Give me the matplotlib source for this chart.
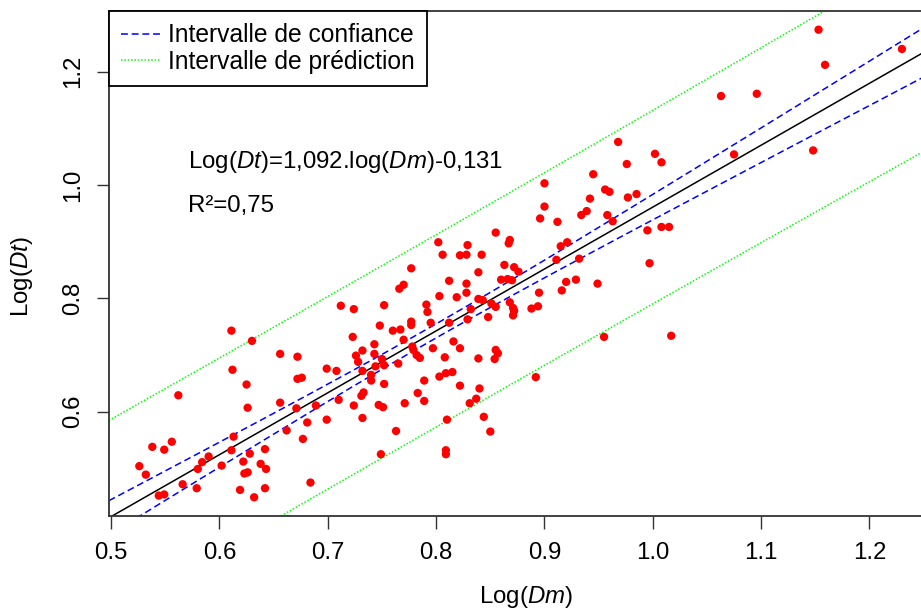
import numpy as np
import matplotlib
matplotlib.use("Agg")
import matplotlib.pyplot as plt

plt.rcParams['font.family'] = ['Liberation Sans', 'DejaVu Sans']
plt.rcParams['mathtext.fontset'] = 'custom'
plt.rcParams['mathtext.rm'] = 'Liberation Sans'
plt.rcParams['mathtext.it'] = 'Liberation Sans:italic'

# ---- data: log(Dm) (x) and log(Dt) (y) ----
log_dm = [
    0.526, 0.532, 0.538, 0.549, 0.556, 0.544, 0.549, 0.566, 0.579, 0.580,
    0.584, 0.590, 0.602, 0.613, 0.611, 0.619, 0.632, 0.642, 0.622, 0.623,
    0.626, 0.628, 0.638, 0.643, 0.642, 0.562,
    0.611, 0.630, 0.612, 0.625, 0.626, 0.656, 0.672, 0.672, 0.676, 0.656,
    0.671, 0.689, 0.699, 0.681, 0.662, 0.677, 0.684, 0.699, 0.708,
    0.712, 0.724, 0.752, 0.723, 0.732, 0.726, 0.728, 0.732, 0.748, 0.760,
    0.767, 0.743, 0.743, 0.750, 0.744, 0.752, 0.740, 0.740, 0.752, 0.765,
    0.710, 0.724, 0.731, 0.733, 0.747, 0.751, 0.771, 0.732, 0.763, 0.749,
    0.766, 0.770,
    0.777, 0.812, 0.828, 0.803, 0.819, 0.828, 0.839, 0.843, 0.791, 0.792,
    0.832, 0.851, 0.855, 0.868, 0.871, 0.872, 0.871, 0.888, 0.894, 0.895,
    0.916, 0.920, 0.929, 0.949, 0.777, 0.777, 0.795, 0.812, 0.829, 0.848,
    0.770, 0.778, 0.779, 0.782, 0.785, 0.797, 0.816, 0.822, 0.808, 0.839,
    0.855, 0.857, 0.854, 0.803, 0.809, 0.815, 0.789, 0.783, 0.789, 0.822,
    0.840, 0.837, 0.831, 0.844, 0.850, 0.810, 0.809, 0.809, 0.892, 0.955,
    1.017,
    0.968, 0.976, 0.945, 0.900, 0.956, 0.960, 0.942, 0.977, 0.985, 0.900,
    0.896, 0.912, 0.934, 0.939, 0.958, 0.963, 0.855, 0.868, 0.867, 0.802,
    0.829, 0.806, 0.822, 0.828, 0.842, 0.915, 0.921, 0.911, 0.932, 0.863,
    0.872, 0.876, 0.839, 0.860, 0.866, 0.870, 1.002, 1.008, 1.075, 1.148,
    0.995, 1.008, 1.015, 0.997, 1.153, 1.230, 1.159, 1.063, 1.096,
]
log_dt = [
    0.504, 0.489, 0.538, 0.533, 0.547, 0.452, 0.454, 0.472, 0.465, 0.499,
    0.511, 0.521, 0.505, 0.556, 0.532, 0.462, 0.449, 0.465, 0.512, 0.491,
    0.493, 0.526, 0.508, 0.499, 0.534, 0.629,
    0.743, 0.725, 0.674, 0.648, 0.607, 0.702, 0.697, 0.658, 0.660, 0.616,
    0.606, 0.611, 0.586, 0.581, 0.567, 0.552, 0.475, 0.676, 0.672,
    0.787, 0.781, 0.788, 0.732, 0.708, 0.699, 0.688, 0.672, 0.752, 0.743,
    0.745, 0.719, 0.702, 0.693, 0.680, 0.682, 0.665, 0.655, 0.649, 0.685,
    0.621, 0.611, 0.628, 0.634, 0.612, 0.608, 0.615, 0.589, 0.566, 0.525,
    0.817, 0.824,
    0.853, 0.831, 0.826, 0.804, 0.802, 0.810, 0.799, 0.797, 0.789, 0.776,
    0.781, 0.791, 0.785, 0.793, 0.783, 0.778, 0.770, 0.782, 0.786, 0.810,
    0.814, 0.829, 0.833, 0.826, 0.759, 0.753, 0.757, 0.757, 0.763, 0.767,
    0.727, 0.715, 0.709, 0.700, 0.695, 0.712, 0.724, 0.712, 0.696, 0.694,
    0.709, 0.703, 0.693, 0.662, 0.668, 0.670, 0.655, 0.633, 0.619, 0.646,
    0.641, 0.623, 0.615, 0.591, 0.565, 0.586, 0.532, 0.525, 0.661, 0.732,
    0.734,
    1.076, 1.037, 1.019, 1.003, 0.992, 0.988, 0.976, 0.978, 0.984, 0.962,
    0.941, 0.935, 0.947, 0.954, 0.947, 0.936, 0.916, 0.903, 0.897, 0.899,
    0.894, 0.877, 0.876, 0.877, 0.877, 0.892, 0.899, 0.868, 0.870, 0.859,
    0.855, 0.847, 0.846, 0.833, 0.834, 0.832, 1.055, 1.040, 1.054, 1.061,
    0.920, 0.926, 0.926, 0.862, 1.274, 1.240, 1.212, 1.157, 1.161,
]

slope = 1.092
intercept = -0.131
t_975 = 1.973  # Student t quantile, 185 df

x_ticks = [0.5, 0.6, 0.7, 0.8, 0.9, 1.0, 1.1, 1.2]
y_ticks = [0.6, 0.8, 1.0, 1.2]

eq_text = r"Log($\mathit{Dt}$)=1,092.log($\mathit{Dm}$)-0,131"
r2_text = "R²=0,75"
x_label = r"Log($\mathit{Dm}$)"
y_label = r"Log($\mathit{Dt}$)"
legend_labels = ["Intervalle de confiance", "Intervalle de prédiction"]

x = np.array(log_dm)
y = np.array(log_dt)
n = len(x)

# R-style axis limits (range extended by 4%)
def rlim(v):
    r = v.max() - v.min()
    return v.min() - 0.04 * r, v.max() + 0.04 * r

xlim = rlim(x)
ylim = rlim(y)

# regression bands
xbar = x.mean()
sxx = np.sum((x - xbar) ** 2)
resid = y - (intercept + slope * x)
s = np.sqrt(np.sum(resid ** 2) / (n - 2))
xg = np.linspace(xlim[0], xlim[1], 400)
fit = intercept + slope * xg
conf = t_975 * s * np.sqrt(1.0 / n + (xg - xbar) ** 2 / sxx)
pred = t_975 * s * np.sqrt(1.0 + 1.0 / n + (xg - xbar) ** 2 / sxx)

W, H = 921, 614
fig = plt.figure(figsize=(W / 100, H / 100), dpi=100)
left_px, bottom_px, top_px = 108.8, 516.0, 11.0
px_per_unit = 1083.3
right_px = left_px + (xlim[1] - xlim[0]) * px_per_unit
aw = right_px - left_px
ah = bottom_px - top_px
ax = fig.add_axes([left_px / W, (H - bottom_px) / H, aw / W, ah / H])

ax.plot(xg, fit, color='black', lw=1.1, zorder=2)
ax.plot(xg, fit + conf, color='#0000FF', lw=1.1, dashes=(4.5, 2.5), zorder=2,
        label=legend_labels[0])
ax.plot(xg, fit - conf, color='#0000FF', lw=1.1, dashes=(4.5, 2.5), zorder=2)
ax.plot(xg, fit + pred, color='#00FF00', lw=1.1, dashes=(1.0, 1.2), zorder=2,
        label=legend_labels[1])
ax.plot(xg, fit - pred, color='#00FF00', lw=1.1, dashes=(1.0, 1.2), zorder=2)
ax.scatter(x, y, s=36, color='#FF0000', edgecolors='none', zorder=3)

ax.set_xlim(xlim)
ax.set_ylim(ylim)
ax.set_xticks(x_ticks)
ax.set_xticklabels([f"{v:.1f}" for v in x_ticks])
ax.set_yticks(y_ticks)
ax.set_yticklabels([f"{v:.1f}" for v in y_ticks], rotation=90, va='center')

fs = 17.3
ax.tick_params(axis='both', direction='out', length=9, width=1.0,
               labelsize=fs, color='#333333')
ax.tick_params(axis='x', pad=10)
ax.tick_params(axis='y', pad=9)
for sp in ax.spines.values():
    sp.set_linewidth(1.3)
    sp.set_color('#333333')

ax.set_xlabel(x_label, fontsize=fs)
ax.set_ylabel(y_label, fontsize=fs)
ax.xaxis.set_label_coords((526 - left_px) / aw, -(584 - bottom_px) / ah)
ax.yaxis.set_label_coords(-(left_px - 35) / aw, (bottom_px - 277) / ah)

ax.text((188 - left_px) / aw, (bottom_px - 167.7) / ah,
        eq_text, transform=ax.transAxes, fontsize=fs, va='baseline', ha='left')
ax.text((188 - left_px) / aw, (bottom_px - 212) / ah,
        r2_text, transform=ax.transAxes, fontsize=fs, va='baseline', ha='left')

leg = ax.legend(loc='upper left', bbox_to_anchor=(0, 1), borderaxespad=0,
                fontsize=17.7, frameon=True, fancybox=False, framealpha=1,
                edgecolor='black', borderpad=0.5, labelspacing=0.1,
                handlelength=1.6, handletextpad=0.3)
leg.get_frame().set_linewidth(1.3)

fig.savefig("out.png", dpi=100)
